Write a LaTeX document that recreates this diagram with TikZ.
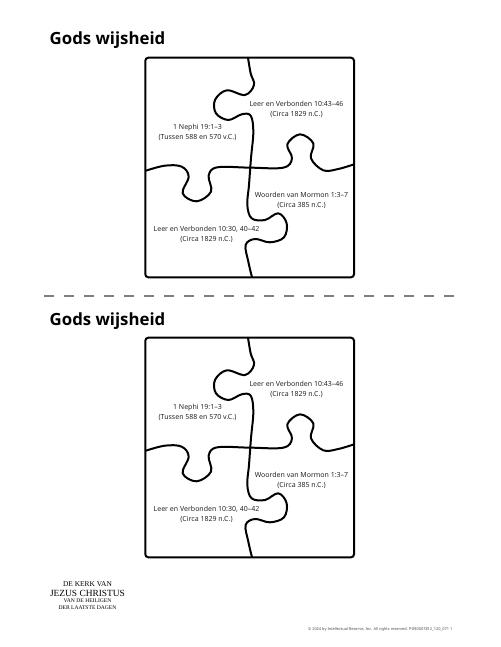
\documentclass[tikz,border=0pt]{standalone}
\usepackage{fontspec}
\setmainfont{Noto Sans}
\newfontfamily\titlefont{Open Sans}
\newfontfamily\logofont{Liberation Serif}
\tikzset{
  x=1pt,y=-1pt,
  frame/.style={draw=black,line width=2pt,rounded corners=3pt},
  seam/.style={draw=black,line width=2pt,line join=round},
  lbl/.style={align=center,font=\fontsize{7}{10}\selectfont,inner sep=0pt,text=black!85},
  ttl/.style={anchor=base west,font=\titlefont\fontsize{16.8}{20}\selectfont\bfseries,inner sep=0pt},
  logo/.style={inner sep=0pt,font=\logofont\fontsize{7.4}{8}\selectfont},
  logosmall/.style={logo,font=\logofont\fontsize{5.6}{6}\selectfont},
}
\begin{document}
\begin{tikzpicture}
\useasboundingbox (0,0) rectangle (500,647);
\foreach \dy/\n in {0/a,280/b}{
  \begin{scope}[yshift=-\dy pt]
    \node[ttl] (title\n) at (49.5,45) {Gods wijsheid};
    \draw[frame] (145.3,57.7) rectangle (354,277.3);
    \begin{scope}[shift={(130,45)},x=0.3333pt,y=-0.3333pt]
      \draw[seam] plot[smooth,tension=0.6] coordinates {(354,38) (362,85) (372,120) (345,150) (290,136) (255,165) (258,205) (295,225) (335,208) (362,212) (370,260) (363,340) (357,420) (352,480) (365,520) (405,525) (445,505) (470,535) (462,577) (420,592) (375,582) (347,600) (355,650) (366,697)};
      \draw[seam] plot[smooth,tension=0.6] coordinates {(48,377) (105,362) (155,365) (176,395) (158,445) (200,469) (243,440) (236,392) (262,367) (360,368) (460,368) (486,340) (472,298) (510,268) (550,295) (543,340) (580,376) (625,372) (672,358)};
    \end{scope}
    \node[lbl] (one\n) at (197.5,132) {1 Nephi 19:1–3\\(Tussen 588 en 570 v.C.)};
    \node[lbl] (two\n) at (296.5,109) {Leer en Verbonden 10:43–46\\(Circa 1829 n.C.)};
    \node[lbl] (three\n) at (301.5,200) {Woorden van Mormon 1:3–7\\(Circa 385 n.C.)};
    \node[lbl] (four\n) at (206.5,234.5) {Leer en Verbonden 10:30, 40–42\\(Circa 1829 n.C.)};
  \end{scope}
}
\coordinate (dl) at (44,296);
\coordinate (dr) at (458,296);
\draw[draw=black!50,line width=1.1pt,dash pattern=on 10pt off 10pt] (dl) -- (dr);
\node[logo] (lg1) at (87.5,584) {DE KERK VAN};
\node[logo,font=\logofont\fontsize{9.4}{10}\selectfont] (lg2) at (87.5,593.5) {JEZUS CHRISTUS};
\node[logosmall] (lg3) at (87.5,601) {VAN DE HEILIGEN};
\node[logosmall] (lg4) at (87.5,607.7) {DER LAATSTE DAGEN};
\node[inner sep=0pt,anchor=east,text=black!70,font=\fontsize{3.9}{5}\selectfont] (copy) at (452.5,629) {© 2024 by Intellectual Reserve, Inc. All rights reserved. PD80007812\_120\_071 1};
\end{tikzpicture}
\end{document}
